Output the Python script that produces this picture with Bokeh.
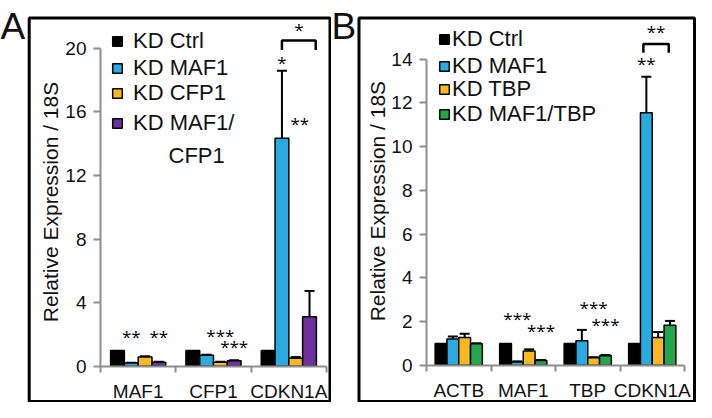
import math
from bokeh.plotting import figure
from bokeh.layouts import row
from bokeh.models import (ColumnDataSource, Legend, LegendItem, Label, BoxAnnotation,
                          FixedTicker, Range1d, Whisker, TeeHead)
from bokeh.core.properties import value
from bokeh.embed import file_html
from bokeh.resources import INLINE

# ---------------- data: panel A ----------------
a_genes = ["MAF1", "CFP1", "CDKN1A"]
a_series = ["KD Ctrl", "KD MAF1", "KD CFP1", "KD MAF1/"]
a_series_extra = "CFP1"
a_ctrl = [1.0, 1.0, 1.0]
a_maf1 = [0.2, 0.7, 14.35]
a_cfp1 = [0.58, 0.25, 0.5]
a_both = [0.25, 0.35, 3.12]
a_ctrl_err = [0.0, 0.0, 0.0]
a_maf1_err = [0.03, 0.03, 4.25]
a_cfp1_err = [0.05, 0.03, 0.08]
a_both_err = [0.03, 0.03, 1.62]
a_yticks = [0, 4, 8, 12, 16, 20]
a_star_gene = [0, 0, 1, 1, 2, 2]
a_star_slot = [1, 3, 2, 3, 1, 2.3]
a_star_y = [1.9, 1.9, 1.95, 1.23, 19.1, 15.3]
a_star_text = ["**", "**", "***", "***", "*", "**"]
a_bracket_gene = 2
a_bracket_slots = [1, 3.45]
a_bracket_y = [19.9, 20.5]
a_bracket_text = "*"
a_bracket_text_y = 21.2

# ---------------- data: panel B ----------------
b_genes = ["ACTB", "MAF1", "TBP", "CDKN1A"]
b_series = ["KD Ctrl", "KD MAF1", "KD TBP", "KD MAF1/TBP"]
b_ctrl = [1.0, 1.0, 1.0, 1.0]
b_maf1 = [1.2, 0.15, 1.12, 11.55]
b_tbp = [1.27, 0.65, 0.34, 1.27]
b_both = [0.98, 0.22, 0.44, 1.83]
b_ctrl_err = [0.0, 0.0, 0.0, 0.0]
b_maf1_err = [0.12, 0.03, 0.5, 1.65]
b_tbp_err = [0.17, 0.08, 0.03, 0.25]
b_both_err = [0.03, 0.02, 0.03, 0.2]
b_yticks = [0, 2, 4, 6, 8, 10, 12, 14]
b_star_gene = [1, 1, 2, 2, 3]
b_star_slot = [1, 3, 2, 3, 1]
b_star_y = [2.15, 1.57, 2.64, 1.88, 13.8]
b_star_text = ["***", "***", "***", "***", "**"]
b_bracket_gene = 3
b_bracket_slots = [0.75, 2.9]
b_bracket_y = [14.3, 14.7]
b_bracket_text = "**"
b_bracket_text_y = 15.25

y_title = "Relative Expression / 18S"

FONT = "Liberation Sans"
STAR_FONT = "Open Sans"
AXIS_GRAY = "#8e8e8e"
TEXT = "#111111"
COLORS_A = ["#000000", "#29abe2", "#fbb921", "#7030a0"]
COLORS_B = ["#000000", "#29abe2", "#fbb921", "#22a84b"]
BW = 0.183
LEG_ROW = 36


def make_panel(genes, series, vals, errs, colors, yticks, star_gene, star_slot, star_y,
               star_text, br_gene, br_slots, br_y, br_text, br_text_y, L):
    n = len(genes)
    W, H = L["W"], L["H"]
    ax_x, ppx, y0, ppu = L["ax_x"], L["ppx"], L["y0"], L["ppu"]
    p = figure(frame_width=W, frame_height=H,
               min_border_left=0, min_border_right=0, min_border_top=0, min_border_bottom=0,
               x_range=Range1d(-ax_x / ppx, (W - ax_x) / ppx),
               y_range=Range1d(-(H - y0) / ppu, y0 / ppu),
               output_backend="svg", toolbar_location=None)
    p.outline_line_color = None
    p.grid.visible = False
    p.background_fill_color = "white"
    p.border_fill_color = "white"

    def slot_x(i, s):
        return i + 0.5 + (s - 1.5) * BW

    # screen helpers: canvas x, canvas y (down) -> screen units (y up)
    def sxf(cx):
        return cx

    def syf(cy):
        return H - cy

    for j in range(len(series)):
        xs = [slot_x(i, j) for i in range(n)]
        src = ColumnDataSource(dict(x=xs, top=vals[j]))
        r = p.vbar(x="x", top="top", bottom=0, width=BW, fill_color=colors[j],
                   line_color="black", line_width=1.5, source=src)
        # one legend box per entry so that each row sits where the reference has it
        cy = L["lrows"][j]
        leg = Legend(items=[LegendItem(label=series[j], renderers=[r])],
                     location=(sxf(L["lx"]), syf(cy + LEG_ROW / 2)), margin=0, padding=0,
                     glyph_width=L["lglyph"], glyph_height=L["lglyph"],
                     label_standoff=L["lstand"], spacing=0, label_height=LEG_ROW,
                     label_text_font=FONT, label_text_font_size="22px",
                     label_text_color=TEXT,
                     border_line_color=None, background_fill_alpha=0)
        p.add_layout(leg)
        ex = [xs[i] for i in range(n) if errs[j][i] > 0]
        el = [vals[j][i] for i in range(n) if errs[j][i] > 0]
        eu = [vals[j][i] + errs[j][i] for i in range(n) if errs[j][i] > 0]
        if ex:
            wsrc = ColumnDataSource(dict(base=ex, lower=el, upper=eu))
            w = Whisker(source=wsrc, base="base", lower="lower", upper="upper",
                        line_color="black", line_width=2,
                        upper_head=TeeHead(size=10, line_width=2, line_color="black"),
                        lower_head=None)
            p.add_layout(w)

    # significance stars and bracket
    sx = [slot_x(g, s) for g, s in zip(star_gene, star_slot)]
    x1, x2 = slot_x(br_gene, br_slots[0]), slot_x(br_gene, br_slots[1])
    sx.append((x1 + x2) / 2)
    sy = list(star_y) + [br_text_y]
    st = list(star_text) + [br_text]
    p.text(x=sx, y=sy, text=st, text_font=value(STAR_FONT), text_font_size="17px",
           text_align="center", text_baseline="middle", text_color="black")
    p.line(x=[x1, x1, x2, x2], y=[br_y[0], br_y[1], br_y[1], br_y[0]],
           line_color="black", line_width=2.5)

    # axes drawn at data 0 inside the frame
    p.xaxis.fixed_location = 0
    p.yaxis.fixed_location = 0
    p.xaxis.ticker = FixedTicker(ticks=[i + 0.5 for i in range(n)],
                                 minor_ticks=list(range(n + 1)))
    p.xaxis.major_label_overrides = {i + 0.5: g for i, g in enumerate(genes)}
    p.xaxis.bounds = (0, n)
    p.xaxis.major_tick_line_color = None
    p.xaxis.major_tick_out = 0
    p.xaxis.major_tick_in = 0
    p.xaxis.minor_tick_out = 6
    p.xaxis.minor_tick_in = 0
    p.xaxis.minor_tick_line_color = AXIS_GRAY
    p.xaxis.minor_tick_line_width = 2
    p.xaxis.major_label_standoff = 9
    p.xaxis.major_label_text_font_size = "19px"
    p.yaxis.ticker = FixedTicker(ticks=yticks, minor_ticks=[])
    p.yaxis.bounds = (0, yticks[-1])
    p.yaxis.major_tick_out = 7
    p.yaxis.major_tick_in = 0
    p.yaxis.major_tick_line_color = AXIS_GRAY
    p.yaxis.major_tick_line_width = 2
    p.yaxis.major_label_standoff = 7
    p.yaxis.major_label_text_font_size = "19px"
    for ax in (p.xaxis, p.yaxis):
        ax.axis_line_color = AXIS_GRAY
        ax.axis_line_width = 2
        ax.major_label_text_font = FONT
        ax.major_label_text_color = TEXT

    p.add_layout(Label(x=sxf(L["ytx"]), y=syf(L["yty"]), x_units="screen", y_units="screen",
                       text=y_title, angle=math.pi / 2, text_align="center",
                       text_baseline="middle", text_font=FONT,
                       text_font_size="21px", text_color=TEXT))
    p.add_layout(Label(x=sxf(L["letx"]), y=syf(L["lety"]), x_units="screen", y_units="screen",
                       text=L["letter"], text_align="left", text_baseline="alphabetic",
                       text_font=FONT, text_font_size="37px", text_color=TEXT))
    box = BoxAnnotation(left=sxf(L["bl"]), right=sxf(L["br"]), top=syf(L["bt"]),
                        bottom=syf(L["bb"]), left_units="screen", right_units="screen",
                        top_units="screen", bottom_units="screen",
                        fill_alpha=0, fill_color=None, line_color="black", line_alpha=1.0,
                        line_width=3)
    p.add_layout(box)
    return p, sxf, syf


# layout in canvas pixels (x right, y down)
LA = dict(W=331, H=402, ax_x=100, ppx=226 / 3, y0=365.8, ppu=15.895,
          lx=111, lrows=[40.6, 67.5, 93.4, 122.5], lglyph=12, lstand=10,
          ytx=50, yty=201.5, letx=0, lety=26.4, letter="A",
          bl=28.7, br=329.5, bt=17.6, bb=401)
LB = dict(W=365, H=402, ax_x=95, ppx=64.5, y0=364.8, ppu=21.864,
          lx=107, lrows=[39.4, 65.5, 88.8, 114.4], lglyph=12, lstand=2,
          ytx=46, yty=200.6, letx=0, lety=26.4, letter="B",
          bl=27.5, br=363, bt=17.6, bb=401)

pa, sxa, sya = make_panel(a_genes, a_series, [a_ctrl, a_maf1, a_cfp1, a_both],
                          [a_ctrl_err, a_maf1_err, a_cfp1_err, a_both_err], COLORS_A, a_yticks,
                          a_star_gene, a_star_slot, a_star_y, a_star_text,
                          a_bracket_gene, a_bracket_slots, a_bracket_y, a_bracket_text,
                          a_bracket_text_y, LA)
pa.add_layout(Label(x=sxa(168), y=sya(154.5), x_units="screen", y_units="screen",
                    text=a_series_extra, text_align="left", text_baseline="middle",
                    text_font=FONT, text_font_size="22px", text_color=TEXT))

pb, sxb, syb = make_panel(b_genes, b_series, [b_ctrl, b_maf1, b_tbp, b_both],
                          [b_ctrl_err, b_maf1_err, b_tbp_err, b_both_err], COLORS_B, b_yticks,
                          b_star_gene, b_star_slot, b_star_y, b_star_text,
                          b_bracket_gene, b_bracket_slots, b_bracket_y, b_bracket_text,
                          b_bracket_text_y, LB)

layout = row(pa, pb)
open("out.html", "w").write(file_html(layout, INLINE))
